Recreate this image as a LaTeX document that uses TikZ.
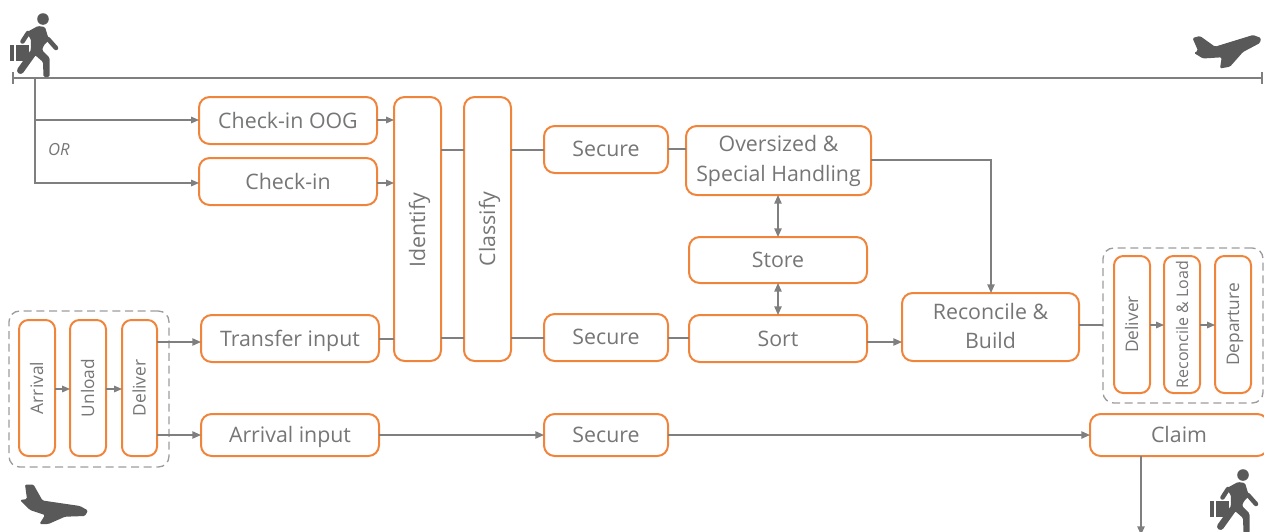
\documentclass[tikz,border=0pt]{standalone}
\usepackage{fontspec}
\setmainfont{Open Sans}
\usetikzlibrary{arrows.meta,calc}
\definecolor{org}{HTML}{F0843A}
\definecolor{lin}{HTML}{7F7F7F}
\definecolor{txt}{HTML}{767676}
\definecolor{ico}{HTML}{595959}
\definecolor{dsh}{HTML}{9C9C9C}
\tikzset{
 boxb/.style={draw=org,line width=1.5pt,rounded corners=8pt,fill=white,inner sep=0pt,outer sep=0pt},
 boxs/.style={boxb,rounded corners=7pt},
 lblb/.style={text=txt,inner sep=0pt,text height=11.4pt,text depth=0pt,font=\fontsize{16}{22}\selectfont},
 lblm/.style={text=txt,inner sep=0pt,align=center,font=\fontsize{16}{22.2}\selectfont},
 lbls/.style={text=txt,inner sep=0pt,text height=9.3pt,text depth=0pt,font=\fontsize{13}{16}\selectfont},
 vtext/.style={rotate=90},
 conn/.style={draw=lin,line width=1.1pt},
 thin conn/.style={draw=lin,line width=0.8pt},
 arr/.style={conn,-{Triangle[length=6.5pt,width=5.5pt]}},
 tarr/.style={thin conn,-{Triangle[length=6pt,width=5pt]}},
 darr/.style={conn,{Triangle[length=6.5pt,width=5.5pt]}-{Triangle[length=6.5pt,width=5.5pt]}},
 grp/.style={draw=dsh,line width=1pt,dash pattern=on 6pt off 3.5pt,rounded corners=8pt,inner sep=0pt,outer sep=0pt},
 pics/person/.style={code={
  \fill[ico] (43,19) circle (5.8);
  \fill[ico] (9.5,45) rectangle (14,60.5);
  \fill[ico] (15.5,44.5) rectangle (29.3,60.5);
  \fill[ico,rounded corners=1pt] (27,32) -- (38,26) -- (45,27) -- (49,40) -- (44,45) -- (42,50) -- (49.5,57.5) -- (49.5,77) -- (43.5,77) -- (43,62) -- (35,55) -- (30.5,58) -- (31,39) -- (29,37) -- cycle;
  \draw[ico,line width=3.4pt,line cap=round] (28,33) -- (22.5,41.5);
  \draw[ico,line width=5.2pt,line cap=round] (33,53) -- (20.5,70.5);
  \draw[ico,line width=3.4pt,line cap=round] (48,39) -- (56,48);
 }}
}
\newcommand{\bx}[7][]{\node[#7,minimum width={(#4-#2)*0.75pt},minimum height={(#5-#3)*0.75pt},#1] (#6) at ({(#2+#4)/2},{(#3+#5)/2}) {};}
\begin{document}
\begin{tikzpicture}[x=0.75pt,y=-0.75pt]
\clip (0,0) rectangle (1264,532);
\useasboundingbox (0,0) rectangle (1264,532);
% timeline
\coordinate (tl) at (13,78); \coordinate (tr) at (1262,78);
\coordinate (tt1) at (13,72); \coordinate (tb1) at (13,84);
\coordinate (tt2) at (1262,72); \coordinate (tb2) at (1262,84);
\draw[lin,line width=1.3pt] (tl) -- (tr);
\draw[lin,line width=0.9pt] (tt1) -- (tb1);
\draw[lin,line width=0.9pt] (tt2) -- (tb2);
% icons
\pic at (0,0) {person};
\pic at (1200,456) {person};
\fill[ico,rounded corners=1pt] (1192.5,38) -- (1200,36) -- (1215,46.7) -- (1253,35) -- (1261,38) -- (1260,43) -- (1243,52) -- (1230,66.7) -- (1220,68.5) -- (1221.7,57.3) -- (1203,58.5) -- (1194,53) -- (1198,50.7) -- cycle;
\fill[ico,rounded corners=1pt] (25,484.5) -- (33.5,484.5) -- (42.5,500.5) -- (80,506) -- (88,510.5) -- (85,516) -- (65,516.7) -- (48.5,524) -- (39.5,524) -- (45,515) -- (30,510) -- (20,500) -- (27,499) -- cycle;
% groups
\node[grp,minimum width={160*0.75pt},minimum height={156*0.75pt}] (gl) at (89,389) {};
\node[grp,minimum width={160*0.75pt},minimum height={155*0.75pt}] (gr) at (1183,325.5) {};
% boxes
\bx{199}{97}{377}{144}{oog}{boxb}
\bx{199}{158}{377}{205}{chk}{boxb}
\bx{394}{97}{441}{361}{idf}{boxb}
\bx{464}{97}{511}{361}{cls}{boxb}
\bx{544}{126}{668}{173}{sa}{boxb}
\bx{686}{126}{871}{195}{ovr}{boxb}
\bx{689}{237}{867}{283}{sto}{boxb}
\bx{689}{315}{867}{362}{srt}{boxb}
\bx{544}{314}{668}{361}{sb}{boxb}
\bx{201}{315}{379}{362}{trn}{boxb}
\bx{902}{293}{1079}{361}{rec}{boxb}
\bx{201}{414}{379}{456}{arr}{boxb}
\bx{544}{414}{668}{456}{sc}{boxb}
\bx{1090}{414}{1268}{456}{clm}{boxb}
\bx{19}{320}{55}{456}{a1}{boxs}
\bx{70}{320}{106}{456}{a2}{boxs}
\bx{122}{320}{157}{456}{a3}{boxs}
\bx{1114}{256}{1150}{393}{d1}{boxs}
\bx{1164}{256}{1200}{393}{d2}{boxs}
\bx{1215}{256}{1251}{393}{d3}{boxs}
% labels
\path (oog) node[lblb] (oogt) {Check-in OOG};
\path (chk) node[lblb] (chkt) {Check-in};
\path (idf) node[lblb,vtext,xshift=-1pt] (idft) {Identify};
\path (cls) node[lblb,vtext] (clst) {Classify};
\path (sa) node[lblb,yshift=0.7pt] (sat) {Secure};
\path (ovr) node[lblm,yshift=-0.2pt] (ovrt) {Oversized \&\\Special Handling};
\path (sto) node[lblb] (stot) {Store};
\path (srt) node[lblb] (srtt) {Sort};
\path (sb) node[lblb,yshift=0.7pt] (sbt) {Secure};
\path (trn) node[lblb] (trnt) {Transfer input};
\path (rec) node[lblm,yshift=0.7pt] (rect) {Reconcile \&\\Build};
\path (arr) node[lblb] (arrt) {Arrival input};
\path (sc) node[lblb] (sct) {Secure};
\path (clm) node[lblb] (clmt) {Claim};
\path (a1) node[lbls,vtext] (a1t) {Arrival};
\path (a2) node[lbls,vtext] (a2t) {Unload};
\path (a3) node[lbls,vtext] (a3t) {Deliver};
\path (d1) node[lbls,vtext] (d1t) {Deliver};
\path (d2) node[lbls,vtext,font=\fontsize{12}{16}\selectfont] (d2t) {Reconcile \& Load};
\path (d3) node[lbls,vtext] (d3t) {Departure};
\node[text=txt,inner sep=0pt,font=\fontsize{12.5}{14}\itshape\selectfont] (ort) at (59,150) {OR};
% connectors
\coordinate (ts) at (35,78);
\draw[tarr] (ts) |- (chk.west |- 0,183);
\draw[tarr] (ts |- 0,120) -- (oog.west |- 0,120);
\draw[tarr] (oog.east |- 0,120) -- (idf.west |- 0,120);
\draw[tarr] (chk.east |- 0,183) -- (idf.west |- 0,183);
\draw[conn] (trn.east |- 0,339) -- (idf.west |- 0,339);
\draw[thin conn] (idf.east |- 0,150) -- (cls.west |- 0,150);
\draw[thin conn] (idf.east |- 0,338) -- (cls.west |- 0,338);
\draw[conn] (cls.east |- 0,150) -- (sa.west |- 0,150);
\draw[conn] (cls.east |- 0,338) -- (sb.west |- 0,338);
\draw[conn] (sa.east |- 0,149) -- (ovr.west |- 0,149);
\draw[conn] (sb.east |- 0,338) -- (srt.west |- 0,338);
\draw[arr] (ovr.east |- 0,160) -| (991,0 |- rec.north);
\draw[arr] (srt.east |- 0,342) -- (rec.west |- 0,342);
\draw[conn] (rec.east |- 0,325) -- (gr.west |- 0,325);
\draw[tarr] (d1.east |- 0,325) -- (d2.west |- 0,325);
\draw[tarr] (d2.east |- 0,325) -- (d3.west |- 0,325);
\draw[darr] (778,0 |- ovr.south) -- (778,0 |- sto.north);
\draw[darr] (778,0 |- sto.south) -- (778,0 |- srt.north);
\draw[tarr] (a1.east |- 0,389) -- (a2.west |- 0,389);
\draw[tarr] (a2.east |- 0,389) -- (a3.west |- 0,389);
\draw[arr] (a3.east |- 0,342) -- (trn.west |- 0,342);
\draw[arr] (a3.east |- 0,435) -- (arr.west |- 0,435);
\draw[arr] (arr.east |- 0,435) -- (sc.west |- 0,435);
\draw[arr] (sc.east |- 0,435) -- (clm.west |- 0,435);
\coordinate (ce) at (1141,535);
\draw[arr] (ce |- clm.south) -- (ce);
\end{tikzpicture}
\end{document}
